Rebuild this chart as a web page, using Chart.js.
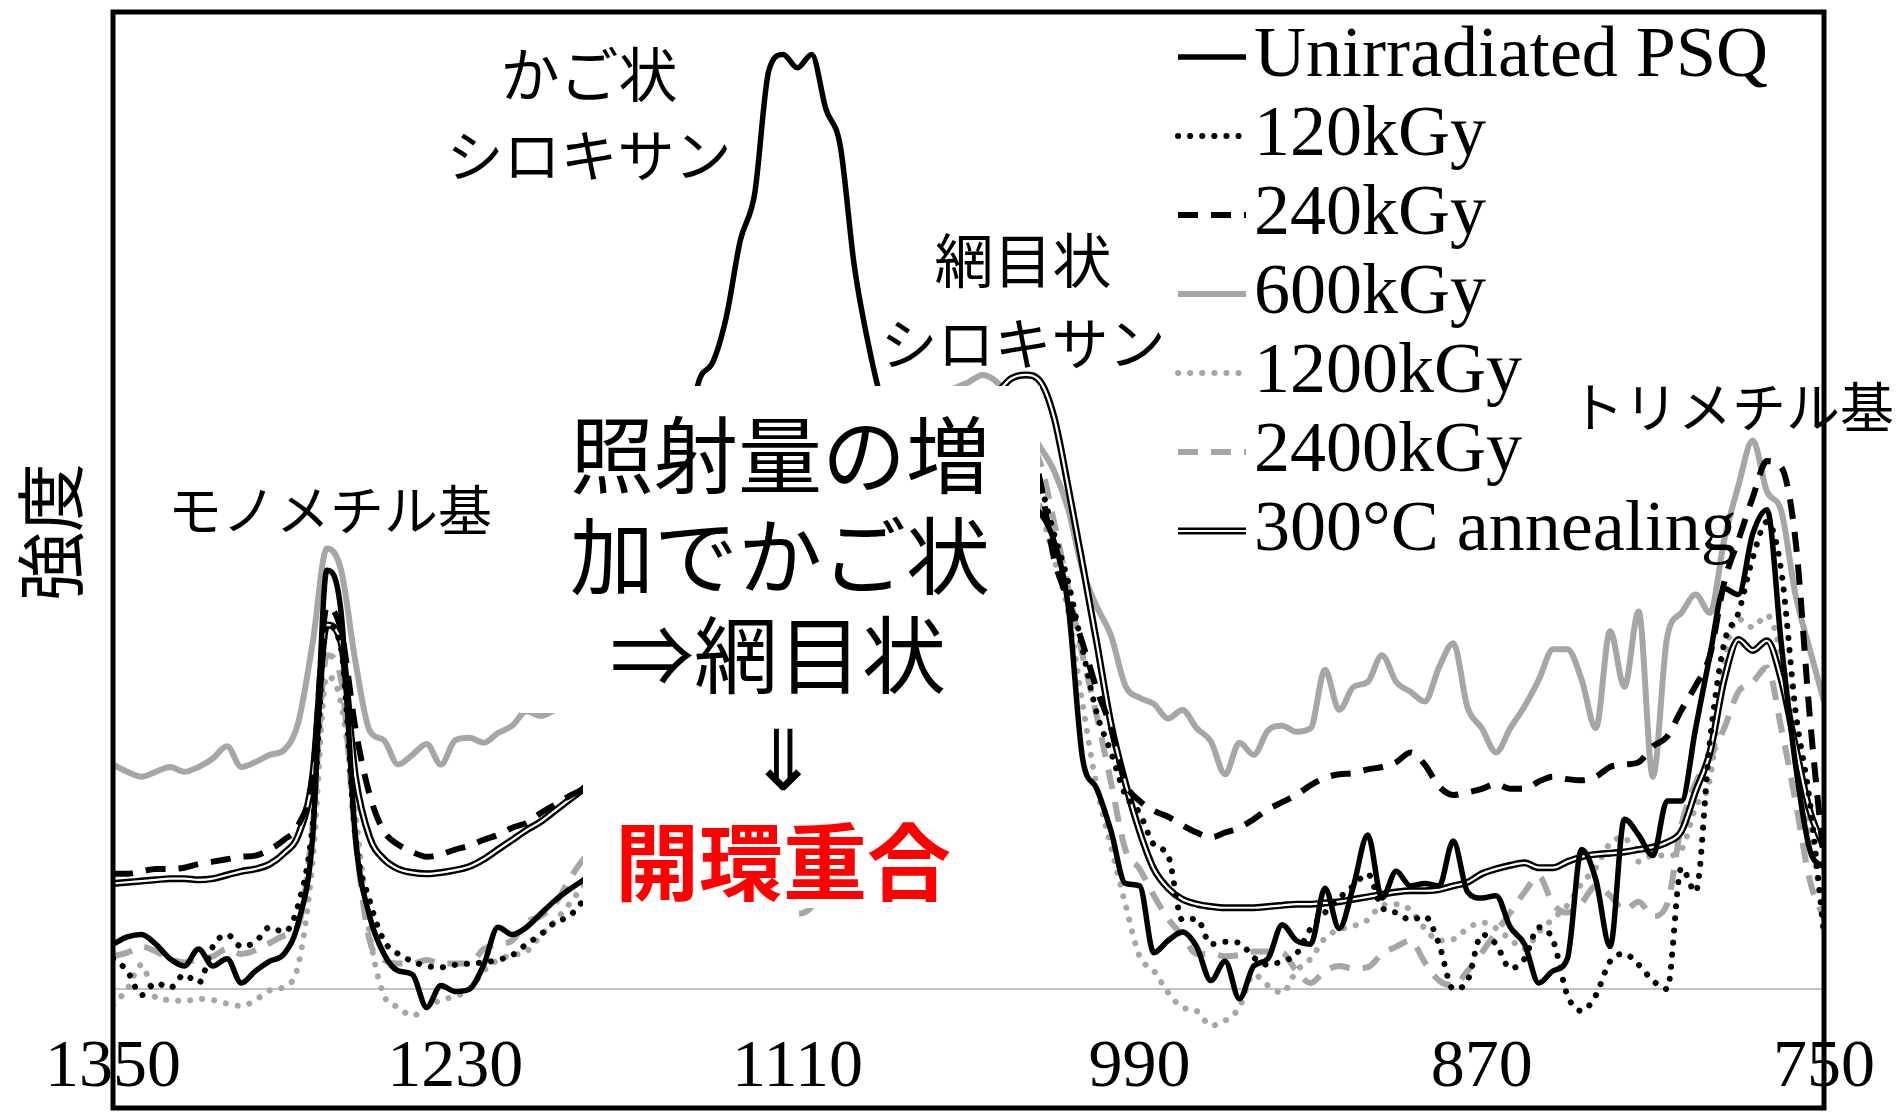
<!DOCTYPE html>
<html>
<head>
<meta charset="utf-8">
<script src="https://cdn.jsdelivr.net/npm/chart.js@4.4.0/dist/chart.umd.min.js"></script>
<style>
  html, body { margin: 0; padding: 0; background: #fff; }
  canvas { display: block; }
</style>
</head>
<body>
<canvas id="chart" width="1903" height="1112"></canvas>
<script>
// wavenumber (cm-1), read every 5 from the picture
const wavenumbers = [
  1350,1345,1340,1335,1330,1325,1320,1315,1310,1305,
  1300,1295,1290,1285,1280,1275,1270,1265,1260,1255,
  1250,1245,1240,1235,1230,1225,1220,1215,1210,1205,
  1200,1195,1190,1185,1180,1175,1170,1165,1160,1155,
  1150,1145,1140,1135,1130,1125,1120,1115,1110,1105,
  1100,1095,1090,1085,1080,1075,1070,1065,1060,1055,
  1050,1045,1040,1035,1030,1025,1020,1015,1010,1005,
  1000,995,990,985,980,975,970,965,960,955,
  950,945,940,935,930,925,920,915,910,905,
  900,895,890,885,880,875,870,865,860,855,
  850,845,840,835,830,825,820,815,810,805,
  800,795,790,785,780,775,770,765,760,755,
  750
];
const xTicks = [1350, 1230, 1110, 990, 870, 750];

const unirradiated = [
  3.7, 4.3, 4.5, 3.7, 2.5, 1.9, 3.3, 1.9, 2.5, 0.5,
  1.5, 2.3, 2.9, 5.5, 12.5, 34.5, 31.0, 12.5, 6.0, 2.9,
  1.5, 1.2, -1.5, 0.3, -0.2, 0.0, 2.0, 5.1, 4.5, 5.1,
  6.2, 7.3, 8.2, 9.0, 10.0, 11.5, 13.5, 16.5, 21.5, 29.5,
  39.5, 49.7, 51.5, 55.3, 61.7, 65.5, 75.7, 77.0, 75.9, 77.0,
  72.5, 69.5, 59.5, 53.0, 48.0, 44.5, 42.5, 41.5, 41.0, 41.0,
  41.0, 41.0, 40.7, 40.3, 39.9, 39.3, 36.9, 31.5, 19.0, 16.5,
  13.0, 8.7, 8.5, 3.0, 4.0, 4.7, 3.5, 0.7, 2.3, -0.8,
  1.9, 2.5, 5.3, 4.0, 3.7, 8.3, 5.0, 8.5, 12.7, 7.5,
  9.7, 8.5, 8.7, 8.5, 12.2, 8.0, 7.5, 7.7, 5.1, 3.7,
  0.5, 1.5, 2.5, 11.5, 9.0, 3.5, 14.0, 12.7, 11.0, 15.5,
  15.5, 21.5, 27.5, 33.0, 32.5, 37.5, 39.5, 28.5, 18.5, 11.5,
  10.0
];
const kGy120 = [
  2.5, 1.5, -0.5, 0.5, 0.1, 1.2, 0.5, 3.5, 4.5, 3.5,
  3.9, 5.1, 4.7, 7.0, 13.5, 30.0, 28.0, 12.5, 7.3, 4.0,
  2.9, 2.3, 1.9, 1.8, 2.0, 2.1, 2.2, 2.4, 2.8, 3.7,
  4.5, 5.5, 6.0, 7.3, 8.5, 10.0, 12.0, 14.5, 17.5, 21.5,
  25.5, 29.5, 33.0, 35.5, 37.5, 39.0, 40.0, 40.7, 41.2, 41.7,
  42.2, 42.7, 43.2, 43.7, 44.3, 44.9, 45.5, 46.0, 46.5, 47.0,
  47.5, 47.9, 48.1, 47.9, 44.5, 41.7, 37.5, 33.5, 28.0, 22.7,
  19.5, 16.0, 14.5, 11.9, 11.0, 5.7, 5.8, 3.7, 3.9, 3.8,
  2.6, 2.0, 2.3, 2.9, 5.0, 6.3, 7.5, 8.5, 9.5, 6.7,
  6.3, 5.7, 6.0, 3.7, 0.0, 0.7, 4.5, 3.7, 1.7, 2.5,
  5.1, 4.0, -0.5, -1.8, -0.5, 2.3, 2.9, 2.0, 0.7, 0.0,
  10.0, 8.0, 20.5, 28.5, 31.0, 35.5, 38.5, 34.5, 23.0, 15.5,
  4.5
];
const kGy240 = [
  9.5, 9.5, 9.7, 9.9, 9.9, 10.0, 10.3, 10.5, 10.7, 10.9,
  11.0, 11.5, 12.3, 13.5, 17.5, 31.5, 29.5, 21.5, 16.0, 13.0,
  11.9, 11.3, 10.9, 11.1, 11.5, 11.8, 12.3, 12.7, 13.3, 13.7,
  14.5, 15.2, 15.9, 16.5, 17.3, 18.3, 19.5, 21.0, 23.0, 25.5,
  28.5, 31.5, 34.5, 37.0, 39.0, 40.5, 41.5, 42.3, 43.0, 43.5,
  44.0, 44.3, 44.5, 44.7, 45.0, 45.3, 45.7, 46.3, 47.0, 47.7,
  48.3, 48.7, 49.0, 48.5, 46.5, 42.0, 35.5, 32.0, 28.5, 24.7,
  21.5, 17.0, 15.5, 14.7, 14.2, 13.5, 12.9, 12.5, 12.9, 13.3,
  14.0, 14.8, 15.4, 16.0, 16.8, 17.4, 17.7, 17.8, 18.1, 18.3,
  18.7, 19.5, 18.5, 16.7, 16.0, 16.2, 16.5, 16.9, 16.5, 16.5,
  17.1, 17.5, 17.3, 17.2, 17.5, 18.3, 18.5, 18.7, 20.0, 20.8,
  23.0, 25.0, 27.5, 33.5, 37.0, 40.5, 43.5, 43.0, 37.0, 22.5,
  10.5
];
const kGy600 = [
  18.5, 17.9, 17.5, 17.9, 18.3, 17.9, 18.3, 19.0, 20.0, 18.3,
  18.7, 19.3, 19.7, 22.0, 28.5, 36.3, 34.5, 27.0, 21.3, 20.5,
  18.5, 19.3, 20.2, 18.5, 20.5, 20.7, 20.3, 21.1, 21.7, 22.9,
  22.5, 23.0, 23.3, 23.7, 24.3, 25.0, 26.0, 27.5, 29.5, 32.0,
  34.5, 37.0, 39.5, 41.5, 43.0, 44.3, 45.3, 46.0, 46.5, 47.0,
  47.3, 47.5, 47.5, 47.5, 47.5, 47.7, 48.0, 48.5, 49.0, 49.5,
  50.0, 50.6, 50.0, 48.5, 46.5, 44.7, 42.7, 39.5, 34.5, 31.5,
  29.1, 25.0, 24.0, 23.5, 22.3, 23.0, 21.5, 20.4, 17.7, 20.3,
  19.3, 21.3, 21.7, 21.2, 21.5, 26.3, 23.0, 24.9, 25.3, 27.5,
  25.3, 24.5, 23.7, 26.5, 28.5, 23.2, 21.5, 19.5, 21.5, 23.3,
  25.5, 28.0, 28.0, 25.5, 21.5, 29.5, 24.9, 31.1, 17.5, 29.0,
  31.0, 32.5, 31.0, 37.0, 41.5, 45.2, 41.0, 39.4, 32.5, 28.0,
  23.7
];
const kGy1200 = [
  -1.3, 0.0, 2.0, -0.7, -0.9, -1.0, -0.8, -0.9, -1.2, -1.4,
  -0.9, -0.1, 0.2, 2.0, 10.5, 25.8, 23.5, 14.5, 4.5, -0.5,
  -1.5, -2.2, -1.5, -0.9, -0.6, 0.0, 1.5, 2.4, 2.8, 3.1,
  4.4, 5.6, 7.0, 8.5, 9.7, 11.3, 13.3, 15.7, 18.7, 22.3,
  26.0, 29.7, 33.0, 35.7, 37.7, 39.2, 40.3, 41.1, 41.7, 42.3,
  42.8, 43.3, 43.8, 44.3, 44.9, 45.5, 46.1, 46.7, 47.2, 47.7,
  48.0, 48.2, 48.1, 47.5, 45.5, 39.9, 35.5, 31.0, 23.5, 16.6,
  11.7, 7.0, 2.7, 1.5, -0.3, -1.5, -1.8, -3.0, -2.6, -1.5,
  1.2, 0.3, -0.3, 1.5, 2.5, 4.2, 4.9, 5.2, 5.7, 6.9,
  7.0, 6.5, 5.0, 4.0, 4.1, 5.0, 5.5, 5.0, 4.1, 3.3,
  4.7, 5.8, 6.9, 8.7, 10.0, 12.0, 12.5, 10.5, 11.0, 11.0,
  11.5, 15.0, 17.3, 27.0, 30.5, 29.8, 30.8, 27.5, 20.5, 13.0,
  5.8
];
const kGy2400 = [
  2.7, 3.0, 3.5, 3.1, 2.5, 2.2, 2.5, 2.7, 3.3, 2.9,
  3.2, 3.8, 4.4, 5.3, 13.5, 27.5, 25.5, 12.5, 4.0, 2.4,
  2.1, 2.1, 2.4, 2.1, 2.1, 2.1, 3.3, 3.7, 4.0, 5.5,
  6.0, 7.0, 9.0, 10.7, 11.5, 11.8, 11.8, 11.6, 11.3, 11.0,
  10.7, 10.4, 10.2, 10.0, 9.8, 9.6, 9.4, 8.8, 6.2, 6.8,
  9.5, 12.5, 16.0, 20.5, 26.0, 31.5, 36.0, 39.5, 42.0, 44.0,
  45.3, 46.3, 46.7, 46.5, 45.5, 43.5, 38.5, 33.0, 27.5, 22.5,
  17.0, 11.5, 9.9, 7.7, 5.8, 4.4, 2.9, 2.9, 2.7, 2.8,
  3.1, 3.1, 3.0, 1.5, 0.5, 1.5, 1.9, 1.7, 1.8, 2.9,
  3.5, 4.0, 2.2, 0.7, 0.3, 1.5, 3.0, 4.7, 6.3, 8.0,
  9.3, 7.0, 6.3, 7.1, 8.5, 7.7, 6.5, 7.2, 6.0, 7.0,
  13.5, 17.0, 19.0, 21.5, 24.5, 25.3, 26.5, 21.5, 15.5, 9.0,
  5.8
];
const annealing300 = [
  8.7, 8.8, 8.9, 9.0, 9.1, 9.1, 9.0, 9.1, 9.4, 9.7,
  9.9, 10.3, 11.2, 12.7, 17.5, 30.0, 28.5, 17.5, 12.5, 10.7,
  9.9, 9.6, 9.5, 9.6, 9.8, 10.1, 10.7, 11.5, 12.3, 13.1,
  13.8, 14.7, 15.6, 16.5, 17.5, 18.7, 20.0, 21.7, 23.7, 26.2,
  29.3, 32.5, 35.5, 38.0, 40.0, 41.5, 42.7, 43.7, 44.5, 45.3,
  46.0, 46.6, 47.1, 47.5, 47.8, 48.0, 48.2, 48.3, 48.4, 48.5,
  48.6, 48.8, 49.2, 50.3, 50.6, 50.1, 47.1, 41.3, 35.0, 28.5,
  21.8, 17.0, 13.0, 9.9, 8.3, 7.4, 7.0, 6.8, 6.7, 6.7,
  6.7, 6.8, 6.9, 7.0, 7.0, 7.1, 7.2, 7.4, 7.6, 7.8,
  8.0, 8.1, 8.1, 8.2, 8.5, 8.8, 9.5, 9.9, 10.2, 10.4,
  10.0, 10.0, 10.5, 10.9, 11.1, 11.2, 11.3, 11.5, 11.7, 12.1,
  13.0, 16.3, 19.5, 25.5, 28.8, 27.9, 28.7, 25.5, 20.0, 14.7,
  11.7
];

const seriesLabels = ['Unirradiated PSQ', '120kGy', '240kGy', '600kGy', '1200kGy', '2400kGy', '300°C annealing'];

const BLACK = '#000000';
const GREY = '#a6a6a6';
const SERIF = '"Liberation Serif", "Times New Roman", serif';
const JP = '"Noto Sans CJK JP", sans-serif';

function pts(vals) {
  return wavenumbers.map((w, i) => ({ x: w, y: vals[i] }));
}

// index 0 is painted last (on top)
const datasets = [
  { label: seriesLabels[0], rank: 0, data: pts(unirradiated), borderColor: BLACK, borderWidth: 5.5 },
  { label: seriesLabels[1], rank: 1, data: pts(kGy120), borderColor: BLACK, borderWidth: 6,
    borderDash: [0.1, 12], borderCapStyle: 'round' },
  { label: seriesLabels[2], rank: 2, data: pts(kGy240), borderColor: BLACK, borderWidth: 6,
    borderDash: [20, 13] },
  { label: '', data: pts(annealing300), borderColor: '#ffffff', borderWidth: 2.2 },
  { label: seriesLabels[6], rank: 6, double: true, data: pts(annealing300), borderColor: BLACK, borderWidth: 7 },
  { label: seriesLabels[3], rank: 3, data: pts(kGy600), borderColor: GREY, borderWidth: 6 },
  { label: seriesLabels[4], rank: 4, data: pts(kGy1200), borderColor: GREY, borderWidth: 6,
    borderDash: [0.1, 12], borderCapStyle: 'round' },
  { label: seriesLabels[5], rank: 5, data: pts(kGy2400), borderColor: GREY, borderWidth: 6,
    borderDash: [20, 13] }
];

const decor = {
  id: 'decor',
  beforeDatasetsDraw(chart) {
    const { ctx, chartArea: a, scales: { y } } = chart;
    const y0 = y.getPixelForValue(0);
    ctx.save();
    ctx.strokeStyle = '#c3c3c3';
    ctx.lineWidth = 2;
    ctx.beginPath();
    ctx.moveTo(a.left, y0);
    ctx.lineTo(a.right, y0);
    ctx.stroke();
    ctx.restore();
  },
  afterDatasetsDraw(chart) {
    const ctx = chart.ctx;
    ctx.save();
    // white text box over the middle
    ctx.fillStyle = '#ffffff';
    ctx.fillRect(583, 386, 457, 522);
    ctx.fillRect(520, 386, 64, 327);

    ctx.textAlign = 'center';
    ctx.textBaseline = 'middle';
    ctx.fillStyle = '#000';
    ctx.font = '84px ' + JP;
    ctx.fillText('照射量の増', 780, 455);
    ctx.fillText('加でかご状', 780, 556);
    ctx.fillText('⇒網目状', 778, 655);
    ctx.fillText('⇓', 783, 758);
    ctx.fillStyle = '#ff0000';
    ctx.font = 'bold 84px ' + JP;
    ctx.fillText('開環重合', 783, 862);

    ctx.fillStyle = '#000';
    ctx.font = '59px ' + JP;
    ctx.fillText('かご状', 589, 75);
    ctx.fillText('網目状', 1023, 261);
    ctx.font = '57px ' + JP;
    ctx.fillText('シロキサン', 589, 155);
    ctx.fillText('シロキサン', 1023, 343);
    ctx.font = '54px ' + JP;
    ctx.fillText('モノメチル基', 330, 510);
    ctx.fillText('トリメチル基', 1732, 407);
    ctx.restore();
  },
  afterDraw(chart) {
    const { ctx, chartArea: a } = chart;
    ctx.save();
    // frame
    ctx.strokeStyle = '#000';
    ctx.lineWidth = 5;
    ctx.strokeRect(a.left, a.top, a.right - a.left, 1108 - a.top);

    // y title
    ctx.save();
    ctx.translate(51, 532);
    ctx.rotate(-Math.PI / 2);
    ctx.font = '69px ' + JP;
    ctx.textAlign = 'center';
    ctx.textBaseline = 'middle';
    ctx.fillStyle = '#000';
    ctx.fillText('強度', 0, 0);
    ctx.restore();

    // legend
    const items = chart.data.datasets.filter(d => d.rank !== undefined).sort((p, q) => p.rank - q.rank);
    ctx.font = '72px ' + SERIF;
    ctx.textAlign = 'left';
    ctx.textBaseline = 'middle';
    items.forEach((d, i) => {
      const ly = 57 + i * 79;
      ctx.save();
      ctx.strokeStyle = d.borderColor;
      ctx.lineWidth = d.borderWidth;
      ctx.lineCap = d.borderCapStyle || 'butt';
      ctx.setLineDash(d.borderDash || []);
      ctx.beginPath();
      ctx.moveTo(1178, ly);
      ctx.lineTo(1246, ly);
      ctx.stroke();
      if (d.double) {
        ctx.strokeStyle = '#fff';
        ctx.lineWidth = 2.2;
        ctx.stroke();
      }
      ctx.restore();
      ctx.fillStyle = '#000';
      ctx.fillText(d.label, 1254, ly);
    });
    ctx.restore();
  }
};

new Chart(document.getElementById('chart'), {
  type: 'line',
  data: { datasets: datasets },
  options: {
    responsive: false,
    animation: false,
    devicePixelRatio: 1,
    layout: { padding: { left: 113, right: 79, top: 12, bottom: 10 } },
    plugins: { legend: { display: false }, tooltip: { enabled: false } },
    elements: {
      point: { radius: 0 },
      line: { cubicInterpolationMode: 'monotone', fill: false }
    },
    scales: {
      x: {
        type: 'linear',
        reverse: true,
        min: 750,
        max: 1350,
        afterBuildTicks: s => { s.ticks = xTicks.map(v => ({ value: v })); },
        ticks: {
          color: '#000',
          font: { family: SERIF, size: 68, lineHeight: 1 },
          padding: 0,
          maxRotation: 0,
          autoSkip: false,
          callback: v => String(v)
        },
        grid: { display: false, drawTicks: false },
        border: { display: false }
      },
      y: { display: false, min: -3.7, max: 80.5 }
    }
  },
  plugins: [decor]
});
</script>
</body>
</html>
